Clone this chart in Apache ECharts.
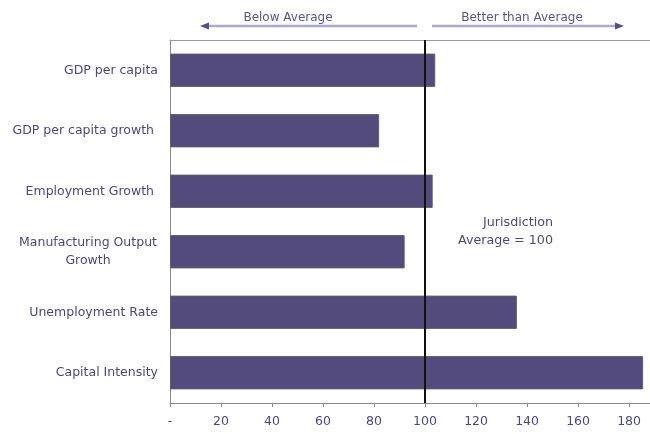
<!DOCTYPE html>
<html>
<head>
<meta charset="utf-8">
<script src="https://cdn.jsdelivr.net/npm/echarts@6/dist/echarts.min.js"></script>
<style>
html,body{margin:0;padding:0;background:#fff;}
#chart{width:650px;height:434px;}
</style>
</head>
<body>
<div id="chart"></div>
<script>
var categories = ['GDP per capita', 'GDP per capita growth ', 'Employment Growth ', 'Manufacturing Output\nGrowth', 'Unemployment Rate', 'Capital Intensity'];
var values = [104, 82, 103, 92, 136, 185.5];
var averageValue = 100;
var xTicks = [0, 20, 40, 60, 80, 100, 120, 140, 160, 180];
var xMax = 188.2;

var textColor = '#4d4685';
var font = 'DejaVu Sans';

var chart = echarts.init(document.getElementById('chart'), null, {renderer: 'canvas'});
chart.setOption({
  animation: false,
  backgroundColor: '#ffffff',
  grid: {left: 170, right: 0, top: 40, bottom: 31, show: false},
  xAxis: [{
    type: 'value', min: 0, max: xMax, interval: 20,
    axisLine: {show: true, lineStyle: {color: '#8a8a8a', width: 1}},
    axisTick: {show: true, length: 4, lineStyle: {color: '#8a8a8a'}},
    splitLine: {show: false},
    axisLabel: {
      showMaxLabel: false, margin: 12, color: textColor, fontFamily: font, fontSize: 12.5,
      formatter: function (v) { return xTicks.indexOf(v) < 0 ? '' : (v === 0 ? '-' : String(v)); }
    }
  }, {
    type: 'value', position: 'top', min: 0, max: xMax,
    axisLine: {show: true, lineStyle: {color: '#9a9a9a', width: 1}},
    axisTick: {show: false}, axisLabel: {show: false}, splitLine: {show: false}
  }],
  yAxis: {
    type: 'category', data: categories, inverse: true,
    axisLine: {show: true, lineStyle: {color: '#8a8a8a', width: 1}},
    axisTick: {show: false},
    axisLabel: {
      margin: 12, color: textColor, fontFamily: font, fontSize: 12.5, lineHeight: 18,
      formatter: function (v) {
        if (v.indexOf('\n') >= 0) {
          return v.split('\n').map(function (s) { return '{m|' + s + '}'; }).join('\n');
        }
        return v;
      },
      rich: {m: {width: 140, align: 'center', color: textColor, fontFamily: font, fontSize: 12.5, lineHeight: 18}}
    }
  },
  series: [{
    type: 'bar', data: values, barWidth: '55%', xAxisIndex: 0,
    itemStyle: {color: '#524b7c', borderColor: '#5e5e6e', borderWidth: 1},
    markLine: {
      silent: true, symbol: 'none', animation: false,
      label: {show: false},
      lineStyle: {color: '#111111', width: 2, type: 'solid'},
      data: [{xAxis: averageValue}]
    }
  }],
  graphic: [
    {type: 'line', shape: {x1: 206, y1: 26, x2: 417, y2: 26}, style: {stroke: '#aca8cc', lineWidth: 2.5}},
    {type: 'polygon', shape: {points: [[200, 26], [209, 22.5], [209, 29.5]]}, style: {fill: '#554e8a'}},
    {type: 'line', shape: {x1: 432, y1: 26, x2: 617, y2: 26}, style: {stroke: '#aca8cc', lineWidth: 2.5}},
    {type: 'polygon', shape: {points: [[624, 26], [615, 22.5], [615, 29.5]]}, style: {fill: '#554e8a'}},
    {type: 'text', x: 288, y: 17.5, style: {text: 'Below Average', fill: '#5a5390', font: '12px "DejaVu Sans"', textAlign: 'center', textVerticalAlign: 'middle'}},
    {type: 'text', x: 522, y: 17.5, style: {text: 'Better than Average', fill: '#5a5390', font: '12px "DejaVu Sans"', textAlign: 'center', textVerticalAlign: 'middle'}},
    {type: 'text', x: 553, y: 223, style: {text: 'Jurisdiction', fill: textColor, font: '12.7px "DejaVu Sans"', textAlign: 'right', textVerticalAlign: 'middle'}},
    {type: 'text', x: 553, y: 241, style: {text: 'Average = 100', fill: textColor, font: '12.7px "DejaVu Sans"', textAlign: 'right', textVerticalAlign: 'middle'}}
  ]
});
</script>
</body>
</html>
